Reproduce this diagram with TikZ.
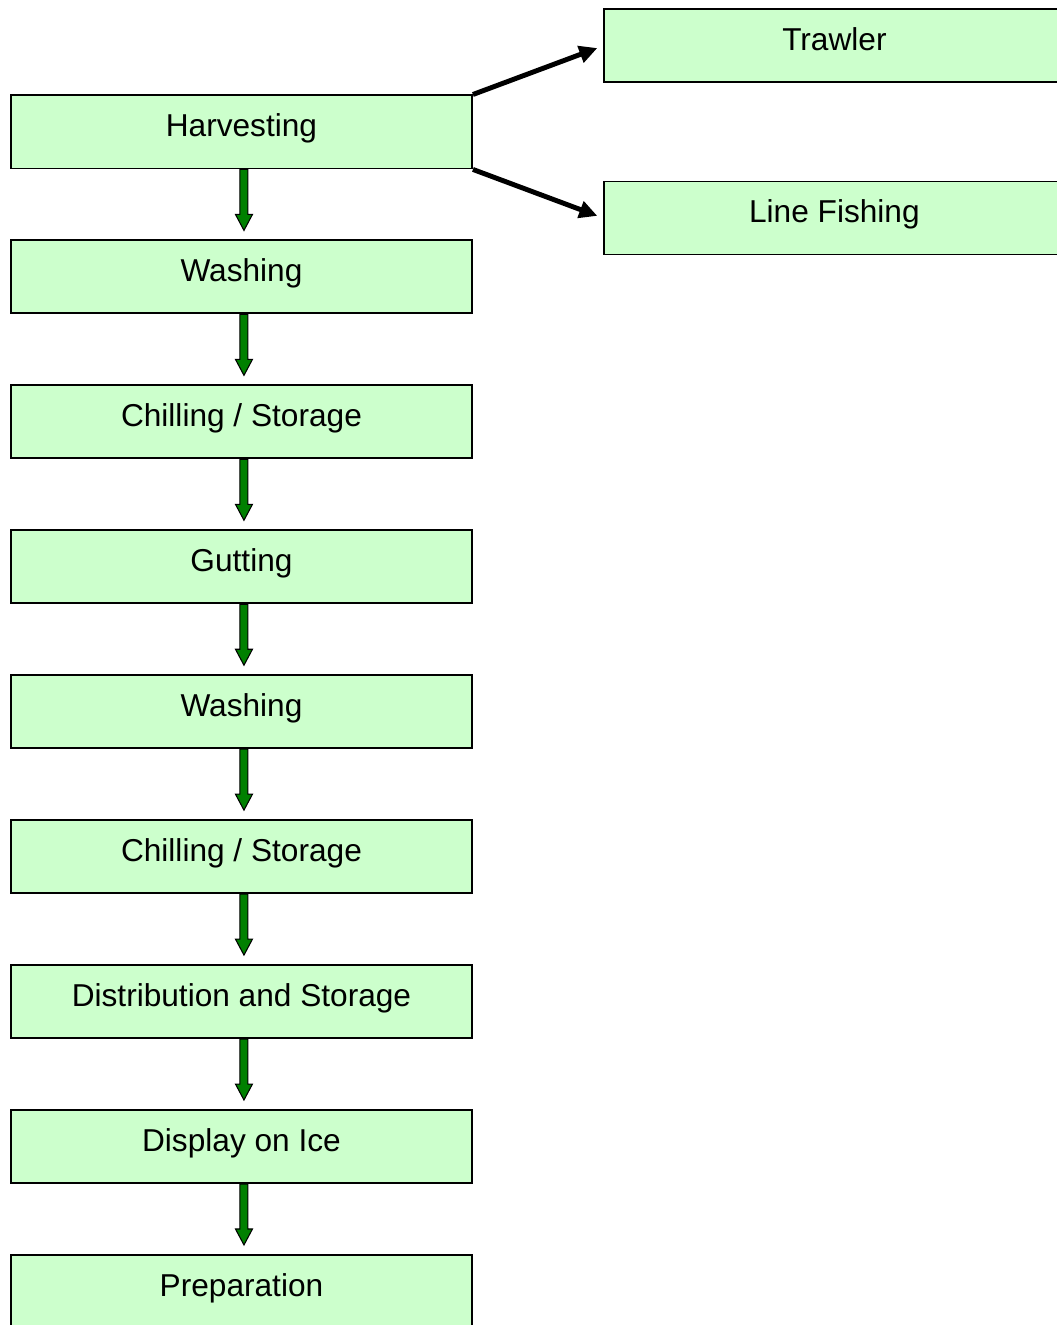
\documentclass[tikz,border=0pt]{standalone}
\usepackage{fontspec}
\setmainfont{Liberation Sans}
\usetikzlibrary{positioning,calc,arrows.meta}
\definecolor{boxgreen}{RGB}{204,255,204}
\definecolor{arrowgreen}{RGB}{0,128,0}

\begin{document}
\begin{tikzpicture}[
    stepbox/.style={draw, line width=1.1pt, fill=boxgreen, minimum width=9.22cm, minimum height=1.46cm,
        inner sep=0pt, text height=0.52cm, text depth=0.32cm, font=\fontsize{18}{22}\selectfont},
    flowarrow/.style={draw=black, line width=0.6pt, fill=arrowgreen, to path={
        ($(\tikztostart)+(-0.08,0)$) -- ($(\tikztotarget)+(-0.08,0.5)$) -- ($(\tikztotarget)+(-0.17,0.5)$)
        -- ($(\tikztotarget)+(0,0.18)$) -- ($(\tikztotarget)+(0.17,0.5)$) -- ($(\tikztotarget)+(0.08,0.5)$)
        -- ($(\tikztostart)+(0.08,0)$) -- cycle}},
    branch/.style={-{Triangle[length=0.36cm,width=0.34cm]}, line width=2.8pt, shorten >=0.12cm}
]
    \useasboundingbox (0,0) rectangle (21.14,-26.5);
    \clip (0,0) rectangle (21.14,-26.5);

    % Main chain (left)
    \node[stepbox, anchor=north west] (harv) at (0.2,-1.89) {Harvesting};
    \node[stepbox, below=1.40cm of harv] (wash1) {Washing};
    \node[stepbox, below=1.40cm of wash1] (chill1) {Chilling / Storage};
    \node[stepbox, below=1.40cm of chill1] (gut) {Gutting};
    \node[stepbox, below=1.40cm of gut] (wash2) {Washing};
    \node[stepbox, below=1.40cm of wash2] (chill2) {Chilling / Storage};
    \node[stepbox, below=1.40cm of chill2] (dist) {Distribution and Storage};
    \node[stepbox, below=1.40cm of dist] (disp) {Display on Ice};
    \node[stepbox, below=1.40cm of disp] (prep) {Preparation};

    % Catch methods (right)
    \node[stepbox, right=2.6cm of harv, yshift=1.72cm] (trawl) {Trawler};
    \node[stepbox, right=2.6cm of harv, yshift=-1.72cm] (line) {Line Fishing};

    \draw[branch] (harv.north east) -- (trawl.west);
    \draw[branch] (harv.south east) -- (line.west);

    % Green arrows between steps
    \foreach \a/\b in {harv/wash1, wash1/chill1, chill1/gut, gut/wash2, wash2/chill2,
                       chill2/dist, dist/disp, disp/prep}
        \draw[flowarrow] ([xshift=0.05cm]\a.south) to ([xshift=0.05cm]\b.north);
\end{tikzpicture}
\end{document}
